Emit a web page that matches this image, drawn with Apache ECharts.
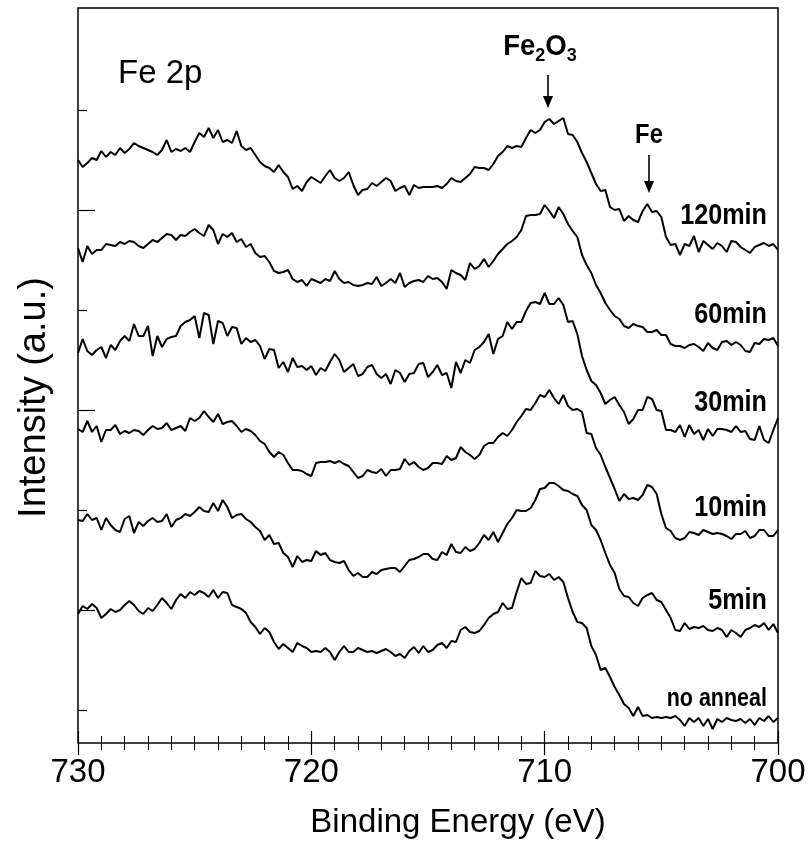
<!DOCTYPE html>
<html><head><meta charset="utf-8">
<script src="https://cdn.jsdelivr.net/npm/echarts@6/dist/echarts.min.js"></script>
<style>html,body{margin:0;padding:0;background:#fff}#c{width:809px;height:850px}</style>
</head><body><div id="c"></div>
<script>
// Binding energy (eV), 0.2 eV steps
const energies = [
730,729.8,729.6,729.4,729.2,729,728.8,728.6,728.4,728.2,
728,727.8,727.6,727.4,727.2,727,726.8,726.6,726.4,726.2,
726,725.8,725.6,725.4,725.2,725,724.8,724.6,724.4,724.2,
724,723.8,723.6,723.4,723.2,723,722.8,722.6,722.4,722.2,
722,721.8,721.6,721.4,721.2,721,720.8,720.6,720.4,720.2,
720,719.8,719.6,719.4,719.2,719,718.8,718.6,718.4,718.2,
718,717.8,717.6,717.4,717.2,717,716.8,716.6,716.4,716.2,
716,715.8,715.6,715.4,715.2,715,714.8,714.6,714.4,714.2,
714,713.8,713.6,713.4,713.2,713,712.8,712.6,712.4,712.2,
712,711.8,711.6,711.4,711.2,711,710.8,710.6,710.4,710.2,
710,709.8,709.6,709.4,709.2,709,708.8,708.6,708.4,708.2,
708,707.8,707.6,707.4,707.2,707,706.8,706.6,706.4,706.2,
706,705.8,705.6,705.4,705.2,705,704.8,704.6,704.4,704.2,
704,703.8,703.6,703.4,703.2,703,702.8,702.6,702.4,702.2,
702,701.8,701.6,701.4,701.2,701,700.8,700.6,700.4,700.2,
700];

// Intensities (a.u., offset spectra as in the figure)
const int120 = [
583,576,580,585,583,592,586,591,588,595,
590,594,600,597,595,593,591,588,593,603,
591,594,592,595,591,601,610,606,615,605,
613,601,603,600,612,597,593,595,588,581,
577,575,571,578,571,566,554,557,552,561,
566,563,560,567,573,565,562,565,571,558,
548,553,554,560,557,561,565,562,552,555,
557,548,558,555,556,556,556,557,555,559,
565,562,561,565,569,576,575,575,573,579,
587,591,597,595,597,596,605,613,610,613,
621,624,619,622,625,609,608,601,590,581,
570,559,552,553,536,533,534,522,527,523,
521,532,539,531,532,526,506,498,499,488,
499,497,507,491,502,498,494,500,497,491,
502,501,496,493,490,496,498,500,497,499,
493];

const int60 = [
495,481,497,489,493,493,499,498,497,501,
499,502,501,497,495,499,503,501,505,509,
508,503,508,507,511,514,510,507,518,513,
499,509,506,510,501,504,496,499,490,486,
487,481,472,470,471,473,464,461,463,457,
464,462,460,464,462,472,464,460,461,458,
457,458,460,459,466,457,460,464,460,470,
456,460,462,463,461,467,464,465,461,454,
473,470,468,463,480,474,477,484,476,482,
489,494,499,502,506,513,527,528,528,529,
538,532,525,536,529,519,512,506,488,478,
470,458,450,440,433,427,424,417,415,419,
417,416,411,411,413,408,408,399,397,397,
395,398,399,396,392,400,395,393,401,402,
398,401,398,392,391,400,399,404,403,405,
397];

const int30 = [
390,404,392,388,393,396,385,398,393,402,
407,402,419,407,407,417,387,407,396,404,
406,407,417,421,423,427,405,430,428,399,
422,420,407,416,415,399,405,401,403,397,
384,394,393,375,381,371,385,376,377,373,
377,368,375,372,381,389,383,371,375,379,
367,369,376,378,369,365,369,359,373,370,
361,369,370,379,380,366,371,378,368,370,
355,381,370,383,380,393,396,401,409,389,
404,407,421,414,421,421,432,440,441,439,
450,439,439,445,438,421,422,409,387,373,
362,358,350,339,343,346,338,331,319,324,
333,333,346,344,333,332,313,313,311,318,
306,318,309,313,303,314,307,314,314,313,
311,317,311,312,304,303,317,303,300,313,
325];

const int10 = [
314,311,322,311,317,301,313,313,318,309,
312,310,313,312,308,313,317,314,315,320,
313,315,317,312,325,322,325,332,326,321,
329,319,321,322,317,311,314,312,308,302,
299,291,286,291,288,280,273,273,272,269,
267,280,281,281,282,280,282,279,277,271,
265,267,273,271,270,274,267,273,273,274,
284,278,281,276,273,275,280,280,279,287,
283,285,296,291,288,284,288,297,300,300,
306,310,307,313,321,327,334,333,340,348,
346,353,345,339,348,337,333,334,331,310,
309,295,288,276,265,254,242,249,244,245,
243,248,258,256,249,229,215,212,205,203,
205,211,210,208,213,211,209,210,209,207,
204,209,209,212,205,207,213,213,207,207,
213];

const int5 = [
223,222,229,223,225,213,225,218,213,211,
224,227,210,221,217,222,225,221,222,229,
216,223,225,229,227,231,236,232,231,240,
232,243,236,225,228,229,224,221,216,212,
203,208,199,200,190,186,176,187,181,183,
182,192,188,190,183,181,180,182,173,167,
170,166,166,171,169,173,174,175,175,171,
177,183,184,186,189,189,184,183,191,188,
199,191,190,196,192,194,200,208,203,211,
201,210,219,225,233,232,232,235,243,254,
255,260,260,257,253,252,249,247,238,233,
218,213,203,190,178,170,154,147,146,140,
137,145,148,150,143,141,133,125,113,112,
120,114,116,115,117,113,112,115,113,106,
113,110,106,113,115,118,116,120,113,119,
110];

const intNoAnneal = [
129,137,134,139,135,125,129,134,131,133,
138,142,138,132,129,135,132,138,145,140,
134,143,149,145,151,148,152,150,146,153,
145,151,150,138,136,134,130,121,116,109,
115,111,101,94,99,95,91,100,97,95,
91,92,91,95,91,83,91,97,91,91,
95,93,91,92,90,92,94,91,87,89,
85,92,96,90,97,91,93,98,100,95,
102,101,113,116,111,110,112,118,125,129,
131,140,134,135,151,165,159,160,172,167,
166,169,163,166,161,145,131,121,120,115,
97,88,73,75,66,56,48,39,35,27,
36,27,28,25,26,25,26,25,27,23,
17,25,21,25,17,24,14,24,21,25,
23,22,24,20,24,18,25,22,27,21,
25];

const seriesNames = ['120min','60min','30min','10min','5min','no anneal'];
const seriesValues = [int120, int60, int30, int10, int5, intNoAnneal];
const yLongTicks = [133, 333, 533];
const yShortTicks = [33, 233, 433, 633];

const REG = '"Liberation Sans",Arial,sans-serif';

const chart = echarts.init(document.getElementById('c'), null, {renderer: 'canvas'});

const series = seriesValues.map((vals, k) => ({
  name: seriesNames[k],
  type: 'line',
  xAxisIndex: 0,
  yAxisIndex: 0,
  data: energies.map((e, i) => [e, vals[i]]),
  showSymbol: false,
  symbol: 'none',
  lineStyle: {color: '#000', width: 2},
  itemStyle: {color: '#000'},
  animation: false,
  silent: true
}));

function label(text, x, y, size, sx, align) {
  return {
    type: 'text', x: x, y: y, scaleX: sx, silent: true,
    style: {
      text: text, fill: '#000',
      font: 'bold ' + size + 'px ' + REG,
      textAlign: align || 'right', textVerticalAlign: 'middle',
      align: align || 'right', verticalAlign: 'middle'
    }
  };
}
function arrow(x, y1, y2) {
  return [
    {type: 'line', silent: true, shape: {x1: x, y1: y1, x2: x, y2: y2 - 10}, style: {stroke: '#000', lineWidth: 1.6}},
    {type: 'polygon', silent: true, shape: {points: [[x - 5, y2 - 12], [x + 5, y2 - 12], [x, y2]]}, style: {fill: '#000'}}
  ];
}

const option = {
  backgroundColor: '#fff',
  animation: false,
  grid: {left: 78, right: 31, top: 8, bottom: 107, show: true, borderColor: '#000', borderWidth: 1.5, backgroundColor: 'transparent'},
  xAxis: [
    {
      type: 'value', min: 700, max: 730, interval: 10, inverse: true, position: 'bottom',
      axisLine: {show: false},
      axisTick: {show: true, inside: true, length: 12, lineStyle: {color: '#000', width: 1.2}},
      minorTick: {show: true, splitNumber: 10, length: 7, lineStyle: {color: '#000', width: 1}},
      splitLine: {show: false}, minorSplitLine: {show: false},
      axisLabel: {show: true, color: '#000', fontSize: 33, fontFamily: REG, margin: 13, showMinLabel: true, showMaxLabel: true},
      name: 'Binding Energy (eV)', nameLocation: 'middle', nameGap: 63,
      nameTextStyle: {color: '#000', fontSize: 33, fontFamily: REG, padding: [0, 0, 0, 60]}
    },
    {
      type: 'value', min: 700, max: 730, interval: 10, inverse: true, position: 'top',
      axisLine: {show: false},
      axisTick: {show: true, inside: true, length: 12, lineStyle: {color: '#000', width: 1.2}},
      minorTick: {show: true, splitNumber: 10, length: 7, lineStyle: {color: '#000', width: 1}},
      splitLine: {show: false}, minorSplitLine: {show: false},
      axisLabel: {show: false}
    }
  ],
  yAxis: [
    {
      type: 'value', min: 0, max: 735, position: 'left',
      axisLine: {show: false},
      axisTick: {show: true, inside: true, length: 17, customValues: yLongTicks, lineStyle: {color: '#000', width: 1.2}},
      axisLabel: {show: false}, splitLine: {show: false},
      name: 'Intensity (a.u.)', nameLocation: 'middle', nameGap: 24, nameRotate: 90,
      nameTextStyle: {color: '#000', fontSize: 38, fontFamily: REG, padding: [0, 44, 0, 0]}
    },
    {
      type: 'value', min: 0, max: 735, position: 'left',
      axisLine: {show: false},
      axisTick: {show: true, inside: true, length: 9, customValues: yShortTicks, lineStyle: {color: '#000', width: 1.2}},
      axisLabel: {show: false}, splitLine: {show: false}
    }
  ],
  series: series,
  graphic: [
    {
      type: 'text', x: 118, y: 74, silent: true,
      style: {text: 'Fe 2p', fill: '#000', font: '33px ' + REG, textAlign: 'left', textVerticalAlign: 'middle', align: 'left', verticalAlign: 'middle'}
    },
    {
      type: 'text', x: 540, y: 32, silent: true,
      style: {
        text: '{a|Fe}{b|2}{a|O}{b|3}', fill: '#000',
        textAlign: 'center', align: 'center', textVerticalAlign: 'top', verticalAlign: 'top',
        rich: {
          a: {font: 'bold 29px ' + REG, fill: '#000', lineHeight: 33, verticalAlign: 'top'},
          b: {font: 'bold 19px ' + REG, fill: '#000', lineHeight: 33, verticalAlign: 'bottom'}
        }
      },
      scaleX: 0.95
    },
    ...arrow(548, 75, 108),
    label('Fe', 649, 135, 28, 0.85, 'center'),
    ...arrow(649, 155, 193),
    label(seriesNames[0], 767, 216, 30, 0.84),
    label(seriesNames[1], 767, 315, 30, 0.84),
    label(seriesNames[2], 767, 403, 30, 0.84),
    label(seriesNames[3], 767, 508, 30, 0.84),
    label(seriesNames[4], 767, 601, 30, 0.84),
    label(seriesNames[5], 767, 699, 25, 0.86)
  ]
};
chart.setOption(option);
</script>
</body></html>
